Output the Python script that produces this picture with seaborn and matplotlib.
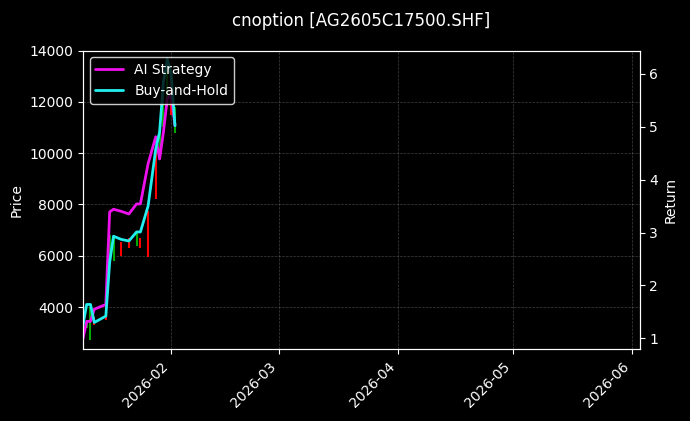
import pandas as pd
import numpy as np
import matplotlib
matplotlib.use('Agg')
import matplotlib.pyplot as plt
import matplotlib.dates as mdates
import seaborn as sns

dates = pd.to_datetime(['2026-01-09', '2026-01-10', '2026-01-11', '2026-01-12', '2026-01-15',
                        '2026-01-16', '2026-01-17', '2026-01-19', '2026-01-21', '2026-01-23',
                        '2026-01-24', '2026-01-26', '2026-01-28', '2026-01-29', '2026-01-30',
                        '2026-01-31', '2026-02-01', '2026-02-02'])
ai_ret = [0.98, 1.32, 1.32, 1.55, 1.64, 3.39, 3.44, 3.40, 3.35, 3.54, 3.54, 4.30, 4.81, 4.39,
          4.90, 5.53, 5.60, 5.02]
bh_ret = [1.23, 1.64, 1.64, 1.30, 1.42, 2.44, 2.93, 2.87, 2.84, 3.01, 3.01, 3.50, 4.58, 4.90,
          5.85, 6.28, 6.00, 5.02]
# candle low/high/up-flag
c_low = [2400, 3200, 2700, 3300, 3500, 5900, 5800, 6000, 6300, 6400, 6300, 5960, 8230, 9800,
         11000, 11800, 11500, 10800]
c_high = [3600, 3500, 4000, 3600, 4000, 6800, 6700, 6550, 6700, 6900, 6700, 7760, 10080, 11200,
          12800, 13500, 13200, 11800]
c_up = [0, 1, 1, 0, 0, 1, 1, 0, 0, 1, 0, 0, 0, 1, 1, 1, 0, 1]

sns.set_style('dark')
plt.rcParams['font.family'] = ['DejaVu Sans']
fig, ax = plt.subplots(figsize=(6.9, 4.21), dpi=100)
fig.patch.set_facecolor('black')
ax.set_facecolor('black')

ax.vlines(dates, c_low, c_high, colors=['#00aa00' if u else '#ff0000' for u in c_up], linewidth=1.5)
ax.set_ylim(2350, 14000)
ax.set_ylabel('Price', color='white')
ax.set_xlim(pd.Timestamp('2026-01-09'), pd.Timestamp('2026-06-03'))
ax.xaxis.set_major_locator(mdates.MonthLocator())
ax.xaxis.set_major_formatter(mdates.DateFormatter('%Y-%m'))
plt.setp(ax.get_xticklabels(), rotation=45, ha='right')
ax.grid(True, color='gray', linestyle='--', linewidth=0.5, alpha=0.5)

ax2 = ax.twinx()
df = pd.DataFrame({'date': dates, 'AI Strategy': ai_ret, 'Buy-and-Hold': bh_ret})
sns.lineplot(data=df, x='date', y='AI Strategy', ax=ax2, color='#ee11ee', linewidth=2, label='AI Strategy')
sns.lineplot(data=df, x='date', y='Buy-and-Hold', ax=ax2, color='#22eeee', linewidth=2, label='Buy-and-Hold')
ax2.set_ylim(0.79, 6.44)
ax2.set_ylabel('Return', color='white')
ax2.set_xlabel('')

ax.tick_params(colors='white', left=True, bottom=True, right=False)
ax2.tick_params(colors='white', right=True, left=False, bottom=False)
for a in (ax, ax2):
    for s in a.spines.values():
        s.set_color('white')
leg = ax2.legend(loc='upper left', facecolor='black', edgecolor='white')
for t in leg.get_texts():
    t.set_color('white')
ax.set_title('cnoption [AG2605C17500.SHF]', color='white', pad=18)
fig.subplots_adjust(left=0.12, right=0.927, top=0.88, bottom=0.17)
fig.savefig('out.png', dpi=100, facecolor='black')
